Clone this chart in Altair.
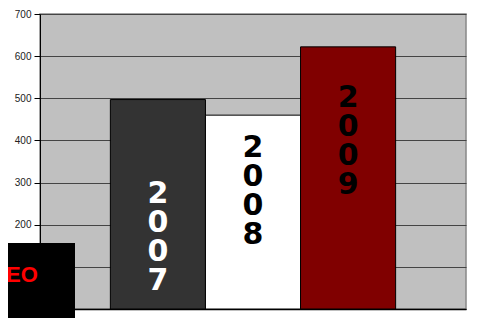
import altair as alt
import pandas as pd

years = ["2007", "2008", "2009"]
values = [497, 460, 622]
bar_colors = ["#333333", "#ffffff", "#800000"]
text_colors = ["#ffffff", "#000000", "#000000"]
label_at = [272, 381, 500]
y_ticks = [0, 100, 200, 300, 400, 500, 600, 700]
badge_text = ["EO"]

df = pd.DataFrame({
    "year": years,
    "value": values,
    "label": ["\n".join(list(y)) for y in years],
    "label_at": label_at,
    "tcolor": text_colors,
})

x = alt.X("year:N", sort=years,
          scale=alt.Scale(paddingInner=0, paddingOuter=0.74),
          axis=alt.Axis(labels=False, ticks=False, title=None,
                        domainColor="#000000", domainWidth=1.5))

bars = alt.Chart(df).mark_bar(stroke="#000000", strokeWidth=1).encode(
    x=x,
    y=alt.Y("value:Q", scale=alt.Scale(domain=[0, 700], nice=False),
            axis=alt.Axis(values=y_ticks, title=None, labelFont="Liberation Sans",
                          labelFontSize=10, labelColor="#222222", labelPadding=3,
                          tickSize=6, tickColor="#000000", domainColor="#000000",
                          gridColor="#444444", gridWidth=1.2)),
    color=alt.Color("year:N", sort=years,
                    scale=alt.Scale(domain=years, range=bar_colors), legend=None),
)

texts = alt.Chart(df).mark_text(
    font="DejaVu Sans", fontWeight="bold", fontSize=30, lineHeight=29,
    lineBreak="\n", baseline="middle", align="center",
).encode(
    x=alt.X("year:N", sort=years),
    y=alt.Y("label_at:Q"),
    text="label:N",
    color=alt.Color("tcolor:N", scale=None),
)

badge_df = pd.DataFrame({"t": badge_text})
badge = alt.Chart(badge_df).mark_rect(color="#000000").encode(
    x=alt.value(-32), x2=alt.value(35), y=alt.value(229), y2=alt.value(304)
)
badge_txt = alt.Chart(badge_df).mark_text(
    font="Liberation Sans", fontWeight="bold", fontSize=22, color="#ff0000",
    align="left", baseline="middle",
).encode(x=alt.value(-34), y=alt.value(261), text="t:N")

chart = alt.layer(bars, texts, badge, badge_txt).properties(
    width=426, height=295,
    autosize=alt.AutoSizeParams(type="none"),
    padding={"left": 32, "top": 6, "right": 3, "bottom": 9},
).configure_view(fill="#c0c0c0", stroke="#888888", strokeWidth=1.5)

chart.save("out.html", embed_options={"renderer": "svg", "actions": False})
